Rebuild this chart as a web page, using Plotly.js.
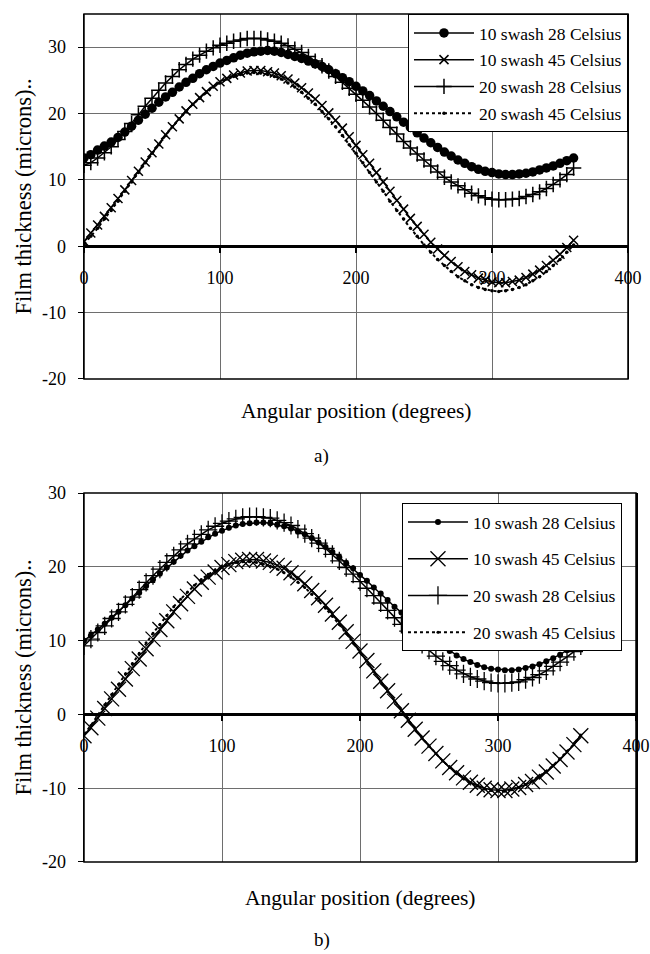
<!DOCTYPE html>
<html>
<head>
<meta charset="utf-8">
<script src="https://cdn.plot.ly/plotly-3.0.1.min.js"></script>
<style>html,body{margin:0;padding:0;background:#fff;}#chart{width:650px;height:954px;}</style>
</head>
<body>
<div id="chart"></div>
<script>
// Angular position (degrees)
const angle = [0,5,10,15,20,25,30,35,40,45,50,55,60,65,70,75,80,85,90,95,100,105,110,115,120,125,130,135,140,145,150,155,160,165,170,175,180,185,190,195,200,205,210,215,220,225,230,235,240,245,250,255,260,265,270,275,280,285,290,295,300,305,310,315,320,325,330,335,340,345,350,355,360];

const seriesNames = ["10 swash 28 Celsius", "10 swash 45 Celsius", "20 swash 28 Celsius", "20 swash 45 Celsius"];

// Chart a) film thickness (microns)
const a_10s28 = [13.3,13.8,14.5,15.1,15.7,16.4,17.2,18.1,19.0,19.9,20.8,21.7,22.5,23.2,24.0,24.7,25.3,26.0,26.6,27.1,27.6,28.0,28.4,28.8,29.1,29.3,29.4,29.5,29.4,29.2,28.9,28.6,28.3,27.9,27.5,27.1,26.6,26.0,25.4,24.8,24.1,23.4,22.7,21.9,21.1,20.3,19.5,18.7,17.9,17.1,16.3,15.6,14.9,14.2,13.6,13.0,12.5,12.0,11.6,11.3,11.1,10.9,10.8,10.8,10.9,11.0,11.2,11.5,11.8,12.1,12.5,12.9,13.3];
const a_10s45 = [0.7,2.0,3.2,4.5,5.8,7.2,8.5,9.9,11.3,12.7,14.1,15.4,16.8,18.0,19.2,20.4,21.4,22.4,23.3,24.1,24.8,25.3,25.8,26.1,26.4,26.5,26.5,26.3,26.1,25.7,25.2,24.6,23.9,23.1,22.2,21.2,20.1,19.0,17.8,16.5,15.2,13.8,12.5,11.1,9.7,8.3,6.9,5.6,4.2,3.0,1.8,0.6,-0.4,-1.4,-2.3,-3.1,-3.8,-4.3,-4.8,-5.1,-5.4,-5.5,-5.5,-5.3,-5.1,-4.7,-4.2,-3.6,-2.9,-2.1,-1.2,-0.2,0.9];
const a_20s28 = [12.2,12.6,13.3,14.1,15.0,16.1,17.3,18.5,19.8,21.1,22.3,23.5,24.6,25.6,26.6,27.4,28.2,28.8,29.4,29.9,30.3,30.6,30.9,31.1,31.3,31.3,31.3,31.1,30.9,30.6,30.2,29.7,29.2,28.6,27.9,27.2,26.4,25.6,24.7,23.8,22.9,22.0,21.0,20.0,19.0,17.9,16.9,15.8,14.8,13.9,13.0,12.1,11.2,10.4,9.7,9.1,8.5,8.0,7.6,7.3,7.1,7.0,7.0,7.1,7.2,7.5,7.8,8.2,8.7,9.3,10.0,10.8,11.8];
const a_20s45 = [0.3,1.5,2.7,4.1,5.4,6.8,8.3,9.7,11.1,12.6,14.0,15.3,16.7,18.0,19.2,20.3,21.4,22.3,23.2,24.0,24.6,25.2,25.6,25.9,26.1,26.2,26.1,25.9,25.6,25.2,24.6,24.0,23.2,22.3,21.4,20.3,19.2,18.0,16.7,15.3,14.0,12.6,11.1,9.7,8.3,6.8,5.4,4.1,2.7,1.5,0.2,-0.9,-2.0,-2.9,-3.8,-4.6,-5.2,-5.8,-6.2,-6.5,-6.7,-6.8,-6.7,-6.5,-6.2,-5.8,-5.2,-4.6,-3.8,-2.9,-2.0,-0.9,0.2];

// Chart b) film thickness (microns)
const b_10s28 = [10.0,10.7,11.5,12.3,13.1,13.9,14.8,15.7,16.5,17.4,18.3,19.1,19.9,20.7,21.5,22.2,22.8,23.4,24.0,24.5,24.9,25.3,25.6,25.8,25.9,26.0,26.0,25.9,25.7,25.5,25.2,24.8,24.4,23.9,23.3,22.7,22.0,21.3,20.5,19.8,18.9,18.1,17.2,16.4,15.5,14.6,13.8,12.9,12.1,11.3,10.6,9.8,9.2,8.6,8.0,7.5,7.1,6.7,6.4,6.2,6.1,6.0,6.0,6.1,6.3,6.5,6.8,7.2,7.6,8.1,8.7,9.3,10.0];
const b_10s45 = [-2.9,-1.8,-0.5,0.8,2.1,3.4,4.8,6.2,7.5,8.9,10.2,11.5,12.7,13.9,15.0,16.0,17.0,17.9,18.6,19.3,19.9,20.3,20.7,20.9,21.0,21.0,20.8,20.6,20.2,19.8,19.2,18.5,17.7,16.8,15.8,14.8,13.6,12.5,11.2,9.9,8.6,7.3,5.9,4.5,3.2,1.8,0.5,-0.8,-2.0,-3.2,-4.3,-5.3,-6.3,-7.2,-7.9,-8.6,-9.2,-9.6,-10.0,-10.2,-10.3,-10.3,-10.1,-9.9,-9.5,-9.1,-8.5,-7.8,-7.0,-6.1,-5.1,-4.1,-2.9];
const b_20s28 = [9.3,10.2,11.1,12.0,13.0,13.9,14.9,15.9,16.9,17.9,18.8,19.7,20.6,21.5,22.3,23.1,23.8,24.4,25.0,25.5,25.9,26.2,26.5,26.7,26.8,26.8,26.7,26.6,26.3,26.0,25.6,25.1,24.5,23.9,23.2,22.5,21.7,20.8,19.9,19.0,18.0,17.1,16.1,15.1,14.1,13.1,12.2,11.3,10.4,9.5,8.7,7.9,7.2,6.6,6.0,5.5,5.1,4.8,4.5,4.3,4.2,4.2,4.3,4.4,4.7,5.0,5.4,5.9,6.5,7.1,7.8,8.5,9.3];
const b_20s45 = [-2.7,-1.5,-0.1,1.3,2.7,4.1,5.5,6.9,8.3,9.7,11.0,12.2,13.4,14.6,15.6,16.6,17.5,18.3,19.0,19.6,20.0,20.4,20.6,20.7,20.7,20.6,20.4,20.1,19.7,19.2,18.6,17.9,17.2,16.3,15.4,14.4,13.3,12.2,11.0,9.7,8.5,7.2,5.8,4.5,3.1,1.8,0.5,-0.8,-2.0,-3.2,-4.3,-5.3,-6.3,-7.2,-8.0,-8.7,-9.3,-9.7,-10.1,-10.3,-10.4,-10.4,-10.2,-9.9,-9.5,-9.0,-8.4,-7.7,-6.9,-6.0,-5.0,-4.0,-2.8];

const xTickVals = [0,100,200,300,400];
const yTickValsTop = [-20,-10,0,10,20,30];
const yTickTextTop = ["-20","-10","0","10","20","30"];
const yTickValsBot = [-20,-10,0,10,20,30];
const yTickTextBot = ["-20","-10","0","10","20","30"];
const panelLabels = ["a)", "b)"];
const xTitle = "Angular position (degrees)";
const yTitle = "Film thickness (microns)..";

const FONT = 'Liberation Serif, Times New Roman, serif';
const BLACK = '#000';

function mk(y, name, xa, ya, leg, grp, style) {
  return Object.assign({
    type: 'scatter', mode: 'lines+markers', x: angle, y: y, name: name,
    xaxis: xa, yaxis: ya, legend: leg, legendgroup: grp
  }, style);
}

const traces = [
  mk(a_10s28, seriesNames[0], 'x', 'y', 'legend', 'a1', {line:{color:BLACK,width:1.5}, marker:{symbol:'circle', size:9.5, color:BLACK}}),
  mk(a_10s45, seriesNames[1], 'x', 'y', 'legend', 'a2', {line:{color:BLACK,width:1.5}, marker:{symbol:'x-thin-open', size:9, color:BLACK, line:{color:BLACK,width:1.5}}}),
  mk(a_20s28, seriesNames[2], 'x', 'y', 'legend', 'a3', {line:{color:BLACK,width:1.5}, marker:{symbol:'cross-thin-open', size:11, color:BLACK, line:{color:BLACK,width:1.5}}}),
  mk(a_20s45, seriesNames[3], 'x', 'y', 'legend', 'a4', {line:{color:BLACK,width:2,dash:'dot'}, marker:{symbol:'circle', size:3.5, color:BLACK}}),
  mk(b_10s28, seriesNames[0], 'x2', 'y2', 'legend2', 'b1', {line:{color:BLACK,width:1.5}, marker:{symbol:'circle', size:6, color:BLACK}}),
  mk(b_10s45, seriesNames[1], 'x2', 'y2', 'legend2', 'b2', {line:{color:BLACK,width:1.5}, marker:{symbol:'x-thin-open', size:15, color:BLACK, line:{color:BLACK,width:1.3}}}),
  mk(b_20s28, seriesNames[2], 'x2', 'y2', 'legend2', 'b3', {line:{color:BLACK,width:1.5}, marker:{symbol:'cross-thin-open', size:13, color:BLACK, line:{color:BLACK,width:1.3}}}),
  mk(b_20s45, seriesNames[3], 'x2', 'y2', 'legend2', 'b4', {line:{color:BLACK,width:2,dash:'dot'}, marker:{symbol:'circle', size:3, color:BLACK}})
];

const domXTop = [0, 0.9855];
const domXBot = [0, 1];
const domTop = [0.5696, 1];
const domBot = [0, 0.4351];
const rngTop = [-20, 35];
const rngBot = [-20, 30];
function zeroPos(dom, rng) { return dom[0] + (0 - rng[0]) / (rng[1] - rng[0]) * (dom[1] - dom[0]); }

// x axis crosses the y axis at zero (as in the original spreadsheet chart)
function zeroX(dom, pos) {
  return {domain: dom, anchor: 'free', position: pos, range: [0,400], tickvals: xTickVals,
    showgrid: true, gridcolor: '#6e6e6e', gridwidth: 1, zeroline: false,
    showline: true, linecolor: BLACK, linewidth: 3,
    ticks: 'outside', ticklen: 5, tickwidth: 2, tickcolor: BLACK, ticklabelstandoff: 9,
    tickfont: {size: 18, family: FONT, color: BLACK}};
}
function baseY(dom, anchor, rng, tv, tt) {
  return {domain: dom, anchor: anchor, range: rng, tickvals: tv, ticktext: tt,
    showgrid: true, gridcolor: '#6e6e6e', gridwidth: 1,
    showline: true, mirror: true, linecolor: BLACK, linewidth: 1.5,
    ticks: 'outside', ticklen: 5, tickwidth: 1, tickcolor: BLACK, ticklabelstandoff: 8,
    tickfont: {size: 18, family: FONT, color: BLACK},
    zeroline: true, zerolinecolor: BLACK, zerolinewidth: 3,
    title: {text: yTitle, standoff: 4, font: {size: 22.5, family: FONT, color: BLACK}}};
}
function legendCfg(x, y, gap) {
  return {x: x, xanchor: 'right', y: y, yanchor: 'top', bgcolor: '#fff', bordercolor: BLACK, borderwidth: 1,
    font: {size: 17.5, family: FONT, color: BLACK}, tracegroupgap: gap, itemwidth: 60};
}
function frame(xa, ya) {
  return {type: 'rect', xref: xa + ' domain', yref: ya + ' domain', x0: 0, x1: 1, y0: 0, y1: 1,
    line: {color: BLACK, width: 1.5}, fillcolor: 'rgba(0,0,0,0)', layer: 'above'};
}
function label(text, x, y, size) {
  return {text: text, xref: 'paper', yref: 'paper', x: x, y: y, xanchor: 'center', yanchor: 'middle',
    showarrow: false, font: {size: size, family: FONT, color: BLACK}};
}

const layout = {
  width: 650, height: 954,
  margin: {l: 84, r: 14, t: 14, b: 92},
  paper_bgcolor: '#fff', plot_bgcolor: '#fff',
  font: {family: FONT, size: 16, color: BLACK},
  showlegend: true,
  xaxis: zeroX(domXTop, zeroPos(domTop, rngTop)),
  yaxis: baseY(domTop, 'x', rngTop, yTickValsTop, yTickTextTop),
  xaxis2: zeroX(domXBot, zeroPos(domBot, rngBot)),
  yaxis2: baseY(domBot, 'x2', rngBot, yTickValsBot, yTickTextBot),
  legend: legendCfg(0.9855, 1, 1),
  legend2: legendCfg(0.9746, 0.4233, 11),
  shapes: [frame('x', 'y'), frame('x2', 'y2')],
  annotations: [
    label(xTitle, 0.4928, 0.5318, 21.5),
    label(xTitle, 0.5, -0.0425, 21.5),
    label(panelLabels[0], 0.431, 0.4788, 19),
    label(panelLabels[1], 0.431, -0.092, 19)
  ]
};

Plotly.newPlot('chart', traces, layout, {staticPlot: true, displayModeBar: false});
</script>
</body>
</html>
